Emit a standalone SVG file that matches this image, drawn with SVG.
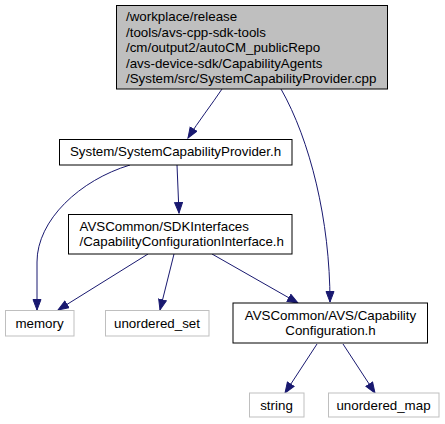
<svg xmlns="http://www.w3.org/2000/svg" width="445" height="424" viewBox="0 0 445 424">
<style>
text{font-family:"Liberation Sans",Arial,sans-serif;font-size:13.33px;fill:#000}
.m{text-anchor:middle}
.n rect{fill:#fff;stroke:#000;stroke-width:1}
.g rect{fill:#fff;stroke:#bfbfbf;stroke-width:1}
.root rect{fill:#bfbfbf;stroke:#000;stroke-width:1}
.e path{fill:none;stroke:#191970;stroke-width:1;marker-end:url(#ah)}
</style>
<defs>
<marker id="ah" markerUnits="userSpaceOnUse" markerWidth="12" markerHeight="10" refX="11" refY="4.5" orient="auto">
<path d="M0.5,0.5 L11,4.5 L0.5,8.5 Z" fill="#191970" stroke="#191970"/>
</marker>
</defs>
<rect width="445" height="424" fill="#fff"/>
<g id="edges" class="e">
<path d="M222,89 C212,104 198,122 188,138"/>
<path d="M281,89 C310,140 330,220 330,302"/>
<path d="M130,165 C80,180 37,220 37,262 L37,310"/>
<path d="M177,165 L179,213"/>
<path d="M148,254 L58,310"/>
<path d="M174,254 L160,310"/>
<path d="M212,254 L298,303"/>
<path d="M317,344 L285,393"/>
<path d="M343,344 L375,393"/>
</g>
<g id="node_root" class="root">
<rect x="116.5" y="5.5" width="271" height="83.5"/>
<text x="126" y="21">/workplace/release</text>
<text x="126" y="36.6">/tools/avs-cpp-sdk-tools</text>
<text x="126" y="52.2">/cm/output2/autoCM_publicRepo</text>
<text x="126" y="67.8">/avs-device-sdk/CapabilityAgents</text>
<text x="126" y="83.4">/System/src/SystemCapabilityProvider.cpp</text>
</g>
<g id="node_scp" class="n">
<rect x="59.5" y="139.5" width="232.5" height="25.5"/>
<text class="m" x="175.5" y="155.5">System/SystemCapabilityProvider.h</text>
</g>
<g id="node_cci" class="n">
<rect x="68.5" y="214.5" width="223.5" height="39.5"/>
<text x="79.5" y="230.5">AVSCommon/SDKInterfaces</text>
<text x="79.5" y="246">/CapabilityConfigurationInterface.h</text>
</g>
<g id="node_memory" class="g">
<rect x="5.5" y="310.5" width="68.5" height="25.5"/>
<text class="m" x="39.5" y="327.5">memory</text>
</g>
<g id="node_uset" class="g">
<rect x="105.5" y="310.5" width="103.5" height="25.5"/>
<text class="m" x="157" y="327.5">unordered_set</text>
</g>
<g id="node_capcfg" class="n">
<rect x="233" y="303" width="194.5" height="40"/>
<text class="m" x="330.5" y="319.7">AVSCommon/AVS/Capability</text>
<text class="m" x="330.5" y="335.2">Configuration.h</text>
</g>
<g id="node_string" class="g">
<rect x="249.5" y="393" width="54.5" height="24"/>
<text class="m" x="276.5" y="409.5">string</text>
</g>
<g id="node_umap" class="g">
<rect x="328.5" y="393" width="110.5" height="24"/>
<text class="m" x="383.5" y="409.5">unordered_map</text>
</g>
</svg>
